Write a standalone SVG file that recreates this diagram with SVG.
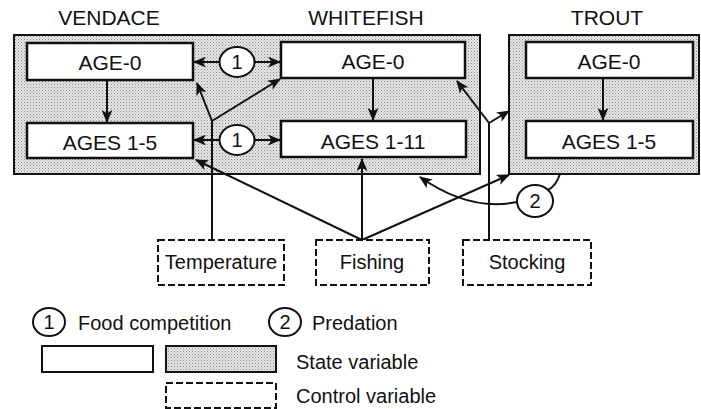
<svg xmlns="http://www.w3.org/2000/svg" width="701" height="409" viewBox="0 0 701 409">
<style>
text{font-family:"Liberation Sans",Arial,sans-serif;font-size:20px;fill:#111}
.big{font-size:21px}
.c{text-anchor:middle}
.box{fill:#fff;stroke:#111;stroke-width:2.5}
.grp{fill:url(#stip);stroke:#111;stroke-width:2}
.ctl{fill:#fff;stroke:#111;stroke-width:2;stroke-dasharray:7 3}
.ln{fill:none;stroke:#111;stroke-width:2}
.ar{marker-end:url(#ah)}
.circ{fill:#fff;stroke:#111;stroke-width:2}
</style>
<defs>
<pattern id="stip" width="3" height="3" patternUnits="userSpaceOnUse">
<rect width="3" height="3" fill="#e6e6e6"/>
<rect x="0" y="0" width="1" height="1" fill="#8a8a8a"/>
<rect x="1.5" y="1.5" width="1" height="1" fill="#a8a8a8"/>
</pattern>
<marker id="ah" viewBox="0 0 12 10" refX="11" refY="5" markerWidth="6.5" markerHeight="5.5" orient="auto-start-reverse" markerUnits="strokeWidth">
<path d="M0,0 L12,5 L0,10 L3,5 z" fill="#111"/>
</marker>
</defs>

<g id="titles">
<text class="c big" x="109" y="25">VENDACE</text>
<text class="c big" x="366" y="25">WHITEFISH</text>
<text class="c big" x="607" y="25">TROUT</text>
</g>

<g id="group-vw"><rect class="grp" x="14" y="35" width="466" height="139"/></g>
<g id="group-trout"><rect class="grp" x="509" y="35" width="190" height="139"/></g>

<g id="vendace-age0"><rect class="box" x="27" y="43" width="166" height="37"/><text class="c big" x="110" y="70">AGE-0</text></g>
<g id="vendace-ages"><rect class="box" x="27" y="123" width="166" height="35"/><text class="c big" x="110" y="150">AGES 1-5</text></g>
<g id="whitefish-age0"><rect class="box" x="281" y="42" width="184" height="36"/><text class="c big" x="373" y="69">AGE-0</text></g>
<g id="whitefish-ages"><rect class="box" x="281" y="121" width="185" height="36"/><text class="c big" x="373" y="149">AGES 1-11</text></g>
<g id="trout-age0"><rect class="box" x="526" y="42" width="167" height="36"/><text class="c big" x="609" y="69">AGE-0</text></g>
<g id="trout-ages"><rect class="box" x="526" y="121" width="167" height="37"/><text class="c big" x="609" y="149">AGES 1-5</text></g>

<g id="connectors">
<line class="ln ar" x1="107" y1="80" x2="107" y2="122"/>
<line class="ln ar" x1="373" y1="78" x2="373" y2="120"/>
<line class="ln ar" x1="603" y1="78" x2="603" y2="120"/>
<line class="ln ar" x1="219" y1="62" x2="194" y2="62"/>
<line class="ln ar" x1="254" y1="62" x2="280" y2="62"/>
<line class="ln ar" x1="220" y1="140" x2="194" y2="140"/>
<line class="ln ar" x1="254" y1="140" x2="280" y2="140"/>
<line class="ln" x1="212" y1="240" x2="212" y2="121"/>
<line class="ln ar" x1="212" y1="121" x2="197" y2="83"/>
<line class="ln ar" x1="212" y1="121" x2="280" y2="79"/>
<line class="ln ar" x1="362" y1="240" x2="196" y2="160"/>
<line class="ln ar" x1="362" y1="240" x2="362" y2="159"/>
<line class="ln ar" x1="362" y1="240" x2="509" y2="175"/>
<line class="ln" x1="489" y1="240" x2="489" y2="123"/>
<line class="ln ar" x1="489" y1="123" x2="457" y2="81"/>
<line class="ln ar" x1="489" y1="123" x2="509" y2="111"/>
<path class="ln" d="M560,174 Q556,186 548,190"/>
<path class="ln ar" d="M517,202 Q470,212 420,177"/>
</g>

<g id="comp-top"><ellipse class="circ" cx="237" cy="62" rx="17.5" ry="15"/><text class="c" x="237" y="69">1</text></g>
<g id="comp-bottom"><ellipse class="circ" cx="237" cy="140" rx="17.5" ry="15"/><text class="c" x="237" y="147">1</text></g>
<g id="predation"><ellipse class="circ" cx="535" cy="201" rx="18" ry="16"/><text class="c" x="535" y="208">2</text></g>

<g id="temperature"><rect class="ctl" x="158" y="240" width="126" height="45"/><text class="c" x="221" y="269">Temperature</text></g>
<g id="fishing"><rect class="ctl" x="316" y="240" width="113" height="45"/><text class="c" x="372" y="269">Fishing</text></g>
<g id="stocking"><rect class="ctl" x="463" y="240" width="128" height="45"/><text class="c" x="527" y="269">Stocking</text></g>

<g id="legend">
<ellipse class="circ" cx="49" cy="322" rx="16" ry="14"/><text class="c" x="49" y="329">1</text>
<text x="78" y="330">Food competition</text>
<ellipse class="circ" cx="285" cy="322" rx="16" ry="14"/><text class="c" x="285" y="329">2</text>
<text x="312" y="330">Predation</text>
<rect class="box" x="42" y="346" width="111" height="26" style="stroke-width:2"/>
<rect class="grp" x="166" y="346" width="110" height="26"/>
<text x="296" y="369">State variable</text>
<rect class="ctl" x="166" y="383" width="110" height="25"/>
<text x="296" y="403">Control variable</text>
</g>
</svg>
